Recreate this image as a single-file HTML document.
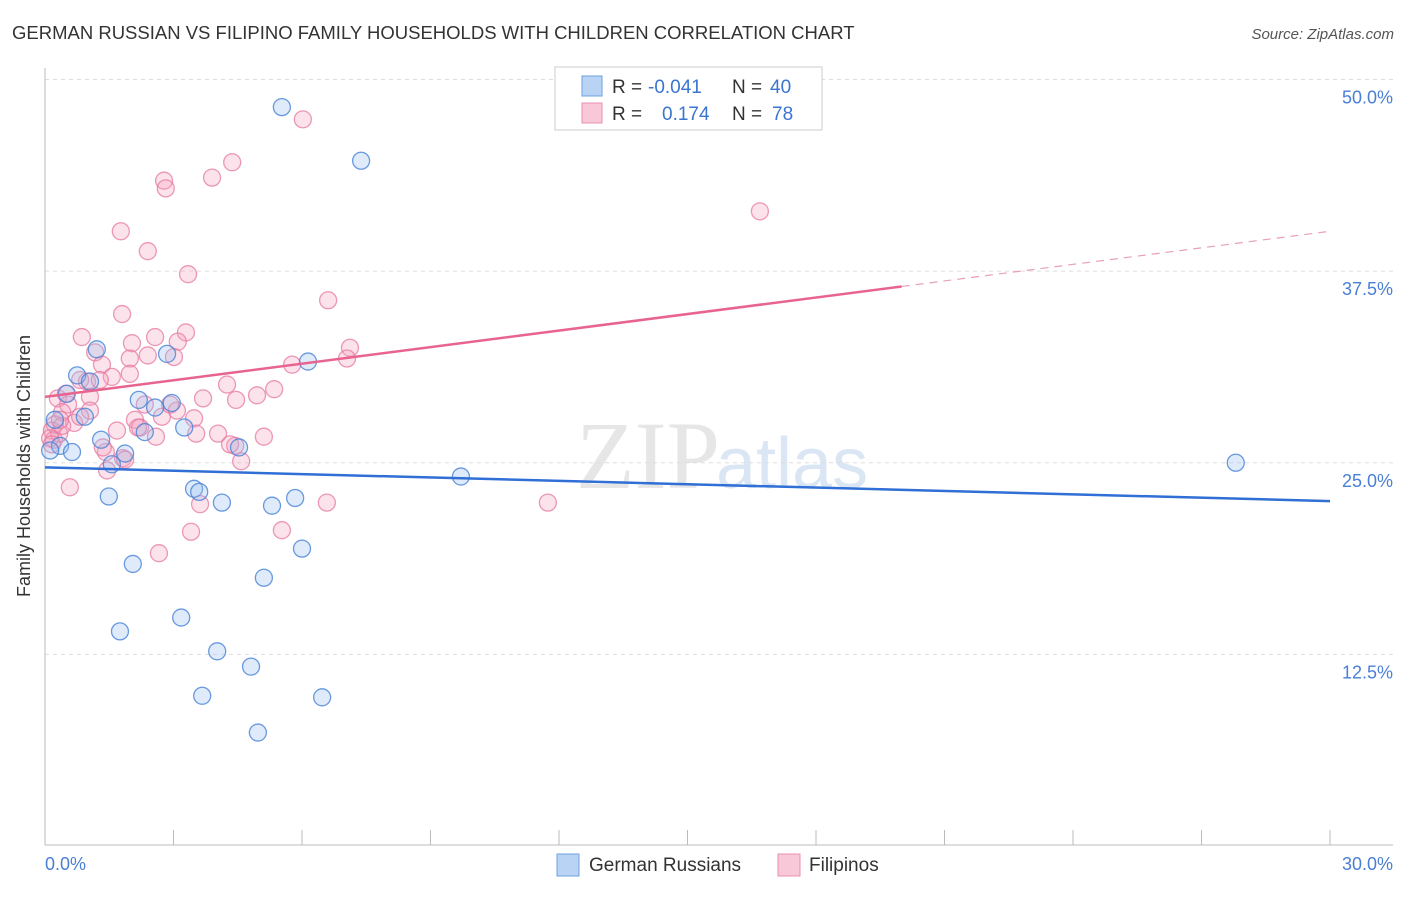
<!DOCTYPE html>
<html><head><meta charset="utf-8"><style>
body{margin:0;background:#fff;font-family:"Liberation Sans",sans-serif;}
</style></head><body>
<svg width="1406" height="892" xmlns="http://www.w3.org/2000/svg" font-family="Liberation Sans, sans-serif">
<text x="12" y="39" font-size="18.5" fill="#333">GERMAN RUSSIAN VS FILIPINO FAMILY HOUSEHOLDS WITH CHILDREN CORRELATION CHART</text>
<text x="1394" y="39" font-size="15" fill="#555" font-style="italic" text-anchor="end">Source: ZipAtlas.com</text>
<text x="720" y="488" font-size="96" fill="#e6e6e6" font-family="Liberation Serif, serif" text-anchor="end">ZIP</text>
<text x="716" y="488" font-size="72" fill="#dbe6f5">atlas</text>
<g id="grid"></g>
<line x1="45" y1="68" x2="45" y2="845" stroke="#bbb"/>
<line x1="45" y1="845" x2="1393" y2="845" stroke="#bbb"/>
<text x="20" y="456" font-size="18" fill="#333" transform="rotate(-90 30 456)" text-anchor="middle">Family Households with Children</text>
<text x="45" y="870" font-size="18" fill="#4a7fd4">0.0%</text>
<text x="1393" y="870" font-size="18" fill="#4a7fd4" text-anchor="end">30.0%</text>
<g id="marks"></g>
<g>
<rect x="555" y="67" width="267" height="63" fill="#fff" stroke="#ccc"/>
<rect x="582" y="76" width="20" height="20" fill="#b9d3f5" stroke="#6fa0e0"/>
<rect x="582" y="103" width="20" height="20" fill="#f9c8d8" stroke="#e890b0"/>
<text x="612" y="93" font-size="19" fill="#333">R =</text>
<text x="648" y="93" font-size="19" fill="#3a75d0">-0.041</text>
<text x="732" y="93" font-size="19" fill="#333">N =</text>
<text x="770" y="93" font-size="19" fill="#3a75d0">40</text>
<text x="612" y="120" font-size="19" fill="#333">R =</text>
<text x="662" y="120" font-size="19" fill="#3a75d0">0.174</text>
<text x="732" y="120" font-size="19" fill="#333">N =</text>
<text x="772" y="120" font-size="19" fill="#3a75d0">78</text>
</g>
<g>
<rect x="557" y="854" width="22" height="22" fill="#b9d3f5" stroke="#6fa0e0"/>
<text x="589" y="871" font-size="19" fill="#333">German Russians</text>
<rect x="778" y="854" width="22" height="22" fill="#f9c8d8" stroke="#e890b0"/>
<text x="809" y="871" font-size="19" fill="#333">Filipinos</text>
</g>
</svg>
<script>
const yTicks=[12.5,25,37.5,50];
const xTicks=[0,3,6,9,12,15,18,21,24,27,30];
const blueX=[5.53,7.38,0.75,1.21,2.85,6.14,0.51,1.05,2.19,2.57,2.96,0.93,2.33,3.25,0.23,1.31,1.87,0.35,0.63,1.56,4.53,9.71,27.8,3.48,3.6,4.13,1.49,5.3,5.84,6.0,2.05,5.11,3.18,1.75,4.02,4.81,3.67,6.47,4.97,0.12];
const blueY=[48.2,44.7,30.7,32.4,32.1,31.6,29.5,30.3,29.1,28.6,28.9,28.0,27.0,27.3,27.8,26.5,25.6,26.1,25.7,24.9,26.0,24.1,25.0,23.3,23.1,22.4,22.8,22.2,22.7,19.4,18.4,17.5,14.9,14.0,12.7,11.7,9.8,9.7,7.4,25.8];
const pinkX=[6.02,4.37,3.9,2.78,2.82,16.69,1.77,2.4,3.34,6.61,1.8,0.86,2.57,3.29,2.03,3.1,7.12,7.05,1.17,2.4,1.98,3.01,5.77,1.33,1.56,0.98,1.98,0.82,4.25,5.35,3.69,4.46,4.95,1.05,0.3,0.54,3.08,0.4,3.48,2.1,2.73,2.22,0.68,1.68,4.04,5.11,3.53,2.59,0.16,0.21,0.33,1.42,1.82,4.44,4.58,1.45,0.58,3.62,3.41,5.53,6.58,11.74,2.66,0.23,0.4,0.12,2.17,1.35,1.05,0.49,1.87,0.82,4.32,2.92,1.28,2.33,0.35,0.16];
const pinkY=[47.4,44.6,43.6,43.4,42.9,41.4,40.1,38.8,37.3,35.6,34.7,33.2,33.2,33.5,32.8,32.9,32.5,31.8,32.2,32.0,31.8,31.9,31.4,31.4,30.6,30.3,30.8,30.4,30.1,29.8,29.2,29.1,29.4,29.3,29.2,28.8,28.4,28.3,27.9,27.8,28.0,27.3,27.6,27.1,26.9,26.7,26.9,26.7,27.1,26.5,26.9,25.7,25.3,26.1,25.1,24.5,23.4,22.3,20.5,20.6,22.4,22.4,19.1,27.5,27.4,26.6,27.3,26.0,28.4,29.5,25.2,28.0,26.2,28.8,30.4,28.8,27.8,26.2];
const blueTrend=[24.7,22.5];
const pinkTrend=[29.3,36.5,40.1];
const pinkSolidEnd=20;
const NS='http://www.w3.org/2000/svg';
const xs=v=>45+v/30*1285;
const ys=v=>846-v/50*766.5;
const grid=document.getElementById('grid'),marks=document.getElementById('marks');
function mk(tag,a,p){const e=document.createElementNS(NS,tag);for(const k in a)e.setAttribute(k,a[k]);p.appendChild(e);return e;}
yTicks.forEach(t=>{
 const l=mk('line',{x1:45,x2:1393,y1:ys(t),y2:ys(t),stroke:'#ddd','stroke-dasharray':'4 4'},grid);
 
 
 const tx=mk('text',{x:1393,y:ys(t)+24,'font-size':18,fill:'#4a7fd4','text-anchor':'end'},grid);
 tx.textContent=t.toFixed(1)+'%';
 
 
});
xTicks.forEach(t=>{
 const l=mk('line',{x1:xs(t),x2:xs(t),y1:830,y2:845,stroke:'#bbb'},grid);
 
 
});
pinkX.forEach((x,i)=>{
 const c=mk('circle',{cx:xs(x),cy:ys(pinkY[i]),r:8.5,fill:'rgba(245,160,190,0.3)',stroke:'rgba(230,120,160,0.75)','stroke-width':1.3},marks);
 
 
});
blueX.forEach((x,i)=>{
 const c=mk('circle',{cx:xs(x),cy:ys(blueY[i]),r:8.5,fill:'rgba(150,190,240,0.3)',stroke:'rgba(70,130,215,0.8)','stroke-width':1.3},marks);
 
 
});
const bl=mk('line',{x1:xs(0),y1:ys(blueTrend[0]),x2:xs(30),y2:ys(blueTrend[1]),stroke:'#2f6fd6','stroke-width':2.5},marks);


const pl=mk('line',{x1:xs(0),y1:ys(pinkTrend[0]),x2:xs(pinkSolidEnd),y2:ys(pinkTrend[1]),stroke:'#e8648f','stroke-width':2.5},marks);


const pd=mk('line',{x1:xs(pinkSolidEnd),y1:ys(pinkTrend[1]),x2:xs(30),y2:ys(pinkTrend[2]),stroke:'#e8a0b8','stroke-width':1.2,'stroke-dasharray':'8 6'},marks);


</script>
</body></html>
